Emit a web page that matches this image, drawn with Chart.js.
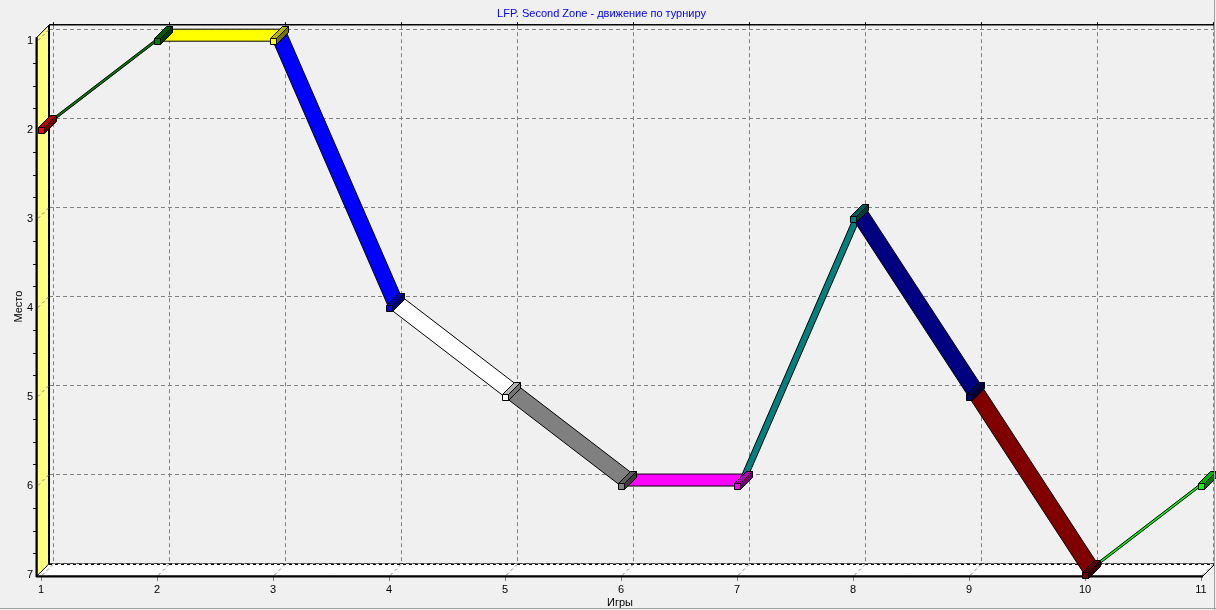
<!DOCTYPE html>
<html>
<head>
<meta charset="utf-8">
<script src="https://cdn.jsdelivr.net/npm/chart.js@4"></script>
<style>
	body { margin: 0; background: #f0f0f0; }
	#box { width: 1216px; height: 610px; position: relative; }
</style>
</head>
<body>
<div id="box"><canvas id="chart"></canvas></div>
<script>
const games = [1, 2, 3, 4, 5, 6, 7, 8, 9, 10, 11]
const places = [2, 1, 1, 4, 5, 6, 6, 3, 5, 7, 6]
// TeeChart default palette, one colour per point (segment to point i uses colour i)
const pointColors = ['#ff0000', '#008000', '#ffff00', '#0000ff', '#ffffff', '#808080',
	'#ff00ff', '#008080', '#000080', '#800000', '#00ff00']
const xTicks = [1, 2, 3, 4, 5, 6, 7, 8, 9, 10, 11]
const yTicks = [1, 2, 3, 4, 5, 6, 7]
const titleText = 'LFP. Second Zone - движение по турниру'
const xTitle = 'Игры'
const yTitle = 'Место'

const DEPTH = 12
const FONT = 'Liberation Sans, Arial, sans-serif'

function shade(hex, k) {
	const n = parseInt(hex.slice(1), 16)
	const r = Math.round(((n >> 16) & 255) * k)
	const g = Math.round(((n >> 8) & 255) * k)
	const b = Math.round((n & 255) * k)
	return 'rgb(' + r + ',' + g + ',' + b + ')'
}

function poly(ctx, pts, fill, stroke) {
	ctx.beginPath()
	ctx.moveTo(pts[0][0], pts[0][1])
	for (let i = 1; i < pts.length; i++) ctx.lineTo(pts[i][0], pts[i][1])
	ctx.closePath()
	if (fill) { ctx.fillStyle = fill; ctx.fill() }
	if (stroke) { ctx.strokeStyle = stroke; ctx.lineWidth = 1; ctx.stroke() }
}

function line(ctx, x1, y1, x2, y2, color, width, dash) {
	ctx.beginPath()
	ctx.setLineDash(dash || [])
	ctx.strokeStyle = color
	ctx.lineWidth = width
	ctx.moveTo(x1, y1)
	ctx.lineTo(x2, y2)
	ctx.stroke()
	ctx.setLineDash([])
}

// 3D walls, back grid and axes
const frame3d = {
	id: 'frame3d',
	beforeDatasetsDraw(chart) {
		const ctx = chart.ctx
		const {left: L, right: R, top: T, bottom: B} = chart.chartArea
		const xs = chart.scales.x, ys = chart.scales.y
		const D = DEPTH
		ctx.save()
		// back wall grid
		xTicks.forEach(v => {
			const px = Math.round(xs.getPixelForValue(v)) + 0.5
			line(ctx, px + D, T - D, px + D, B - D, '#808080', 1, [4, 3])
			line(ctx, px + D, T - D, px + D, T - D - 3, '#000', 1)
		})
		yTicks.forEach(v => {
			const py = Math.round(ys.getPixelForValue(v)) + 0.5
			line(ctx, L + D, py - D, R + D, py - D, '#808080', 1, [4, 3])
		})
		// top edge of back wall
		line(ctx, L + D, T - D - 0.5, R + D, T - D - 0.5, '#000', 1.5)
		// left wall
		poly(ctx, [[L, T], [L + D, T - D], [L + D, B - D], [L, B]], '#ffff80', '#000')
		line(ctx, L + D, T - D, L + D, B - D, '#000', 2)
		// floor
		poly(ctx, [[L, B], [L + D, B - D], [R + D, B - D], [R, B]], '#ffffff', '#000')
		line(ctx, L + D, B - D + 0.5, R + D, B - D + 0.5, '#fff', 1)
		line(ctx, L + D, B - D + 0.5, R + D, B - D + 0.5, '#000', 1, [3, 3])
		// wall / floor grid diagonals
		yTicks.forEach(v => {
			const py = Math.round(ys.getPixelForValue(v)) + 0.5
			line(ctx, L + 1, py - 1, L + D, py - D, '#808080', 1, [3, 3])
		})
		xTicks.forEach(v => {
			const px = Math.round(xs.getPixelForValue(v)) + 0.5
			line(ctx, px + 1, B - 1, px + D, B - D, '#808080', 1, [3, 3])
			line(ctx, px, B + 1, px, B + 5, '#808080', 1)
		})
		// axes
		line(ctx, L - 0.5, T, L - 0.5, B + 1, '#000', 2)
		line(ctx, L - 1, B + 0.5, R, B + 0.5, '#000', 2)
		// minor ticks on the left axis
		for (let i = 0; i < yTicks.length - 1; i++) {
			for (let k = 1; k < 4; k++) {
				const py = Math.round(ys.getPixelForValue(yTicks[i] + k / 4)) + 0.5
				line(ctx, L - 4, py, L - 1, py, '#000', 1)
			}
		}
		ctx.restore()
	},
	afterDatasetsDraw(chart) {
		const ctx = chart.ctx
		const pts = chart.getDatasetMeta(0).data
		const D = DEPTH
		ctx.save()
		ctx.lineJoin = 'miter'
		// ribbons
		for (let i = 1; i < pts.length; i++) {
			const a = pts[i - 1], b = pts[i]
			poly(ctx, [[a.x, a.y], [b.x, b.y], [b.x + D, b.y - D], [a.x + D, a.y - D]], pointColors[i], '#000')
		}
		// point cubes
		const s = 3
		for (let i = 0; i < pts.length; i++) {
			const x = Math.round(pts[i].x) + 0.5, y = Math.round(pts[i].y) + 0.5
			const c = pointColors[i]
			poly(ctx, [[x - s, y - s], [x - s + D, y - s - D], [x + s + D, y - s - D], [x + s, y - s]], shade(c, 0.7), '#000')
			poly(ctx, [[x + s, y - s], [x + s + D, y - s - D], [x + s + D, y + s - D], [x + s, y + s]], shade(c, 0.45), '#000')
			poly(ctx, [[x - s, y - s], [x + s, y - s], [x + s, y + s], [x - s, y + s]], c, '#000')
		}
		ctx.restore()
	},
	afterDraw(chart) {
		const ctx = chart.ctx
		ctx.save()
		line(ctx, 0, 608.5, 1216, 608.5, '#a0a0a0', 1)
		line(ctx, 1214.5, 0, 1214.5, 610, '#a0a0a0', 1)
		ctx.restore()
	}
}

new Chart(document.getElementById('chart'), {
	type: 'line',
	data: {
		datasets: [{
			label: 'Место',
			data: games.map((g, i) => ({x: g, y: places[i]})),
			showLine: false,
			pointRadius: 0,
			pointHoverRadius: 0,
		}],
	},
	options: {
		animation: false,
		responsive: true,
		maintainAspectRatio: false,
		layout: { padding: { right: 13 } },
		plugins: {
			legend: { display: false },
			tooltip: { enabled: false },
			title: {
				display: true,
				text: titleText,
				color: '#0000ff',
				font: { family: FONT, size: 11, weight: 'normal' },
				padding: { top: 7, bottom: 17 },
			},
		},
		scales: {
			x: {
				type: 'linear',
				min: 1 - 4 / 116,
				max: 1 - 4 / 116 + 1166 / 116,
				afterBuildTicks: s => { s.ticks = xTicks.map(v => ({value: v})) },
				afterFit: s => { s.height = 34 },
				grid: { display: false, drawTicks: false, tickLength: 0 },
				border: { display: false },
				ticks: { color: '#000', font: { family: FONT, size: 11 }, padding: 7, maxRotation: 0, autoSkip: false },
				title: { display: true, text: xTitle, color: '#000', font: { family: FONT, size: 11 }, padding: { top: 0, bottom: 0 } },
			},
			y: {
				type: 'linear',
				reverse: true,
				min: 1 - 4 / 89,
				max: 1 - 4 / 89 + 539 / 89,
				afterBuildTicks: s => { s.ticks = yTicks.map(v => ({value: v})) },
				afterFit: s => { s.width = 37 },
				grid: { display: false, drawTicks: false, tickLength: 0 },
				border: { display: false },
				ticks: { color: '#000', font: { family: FONT, size: 11 }, padding: 4, autoSkip: false },
				title: { display: true, text: yTitle, color: '#000', font: { family: FONT, size: 11 }, padding: { top: 12.5 } },
			},
		},
	},
	plugins: [frame3d],
})
</script>
</body>
</html>
